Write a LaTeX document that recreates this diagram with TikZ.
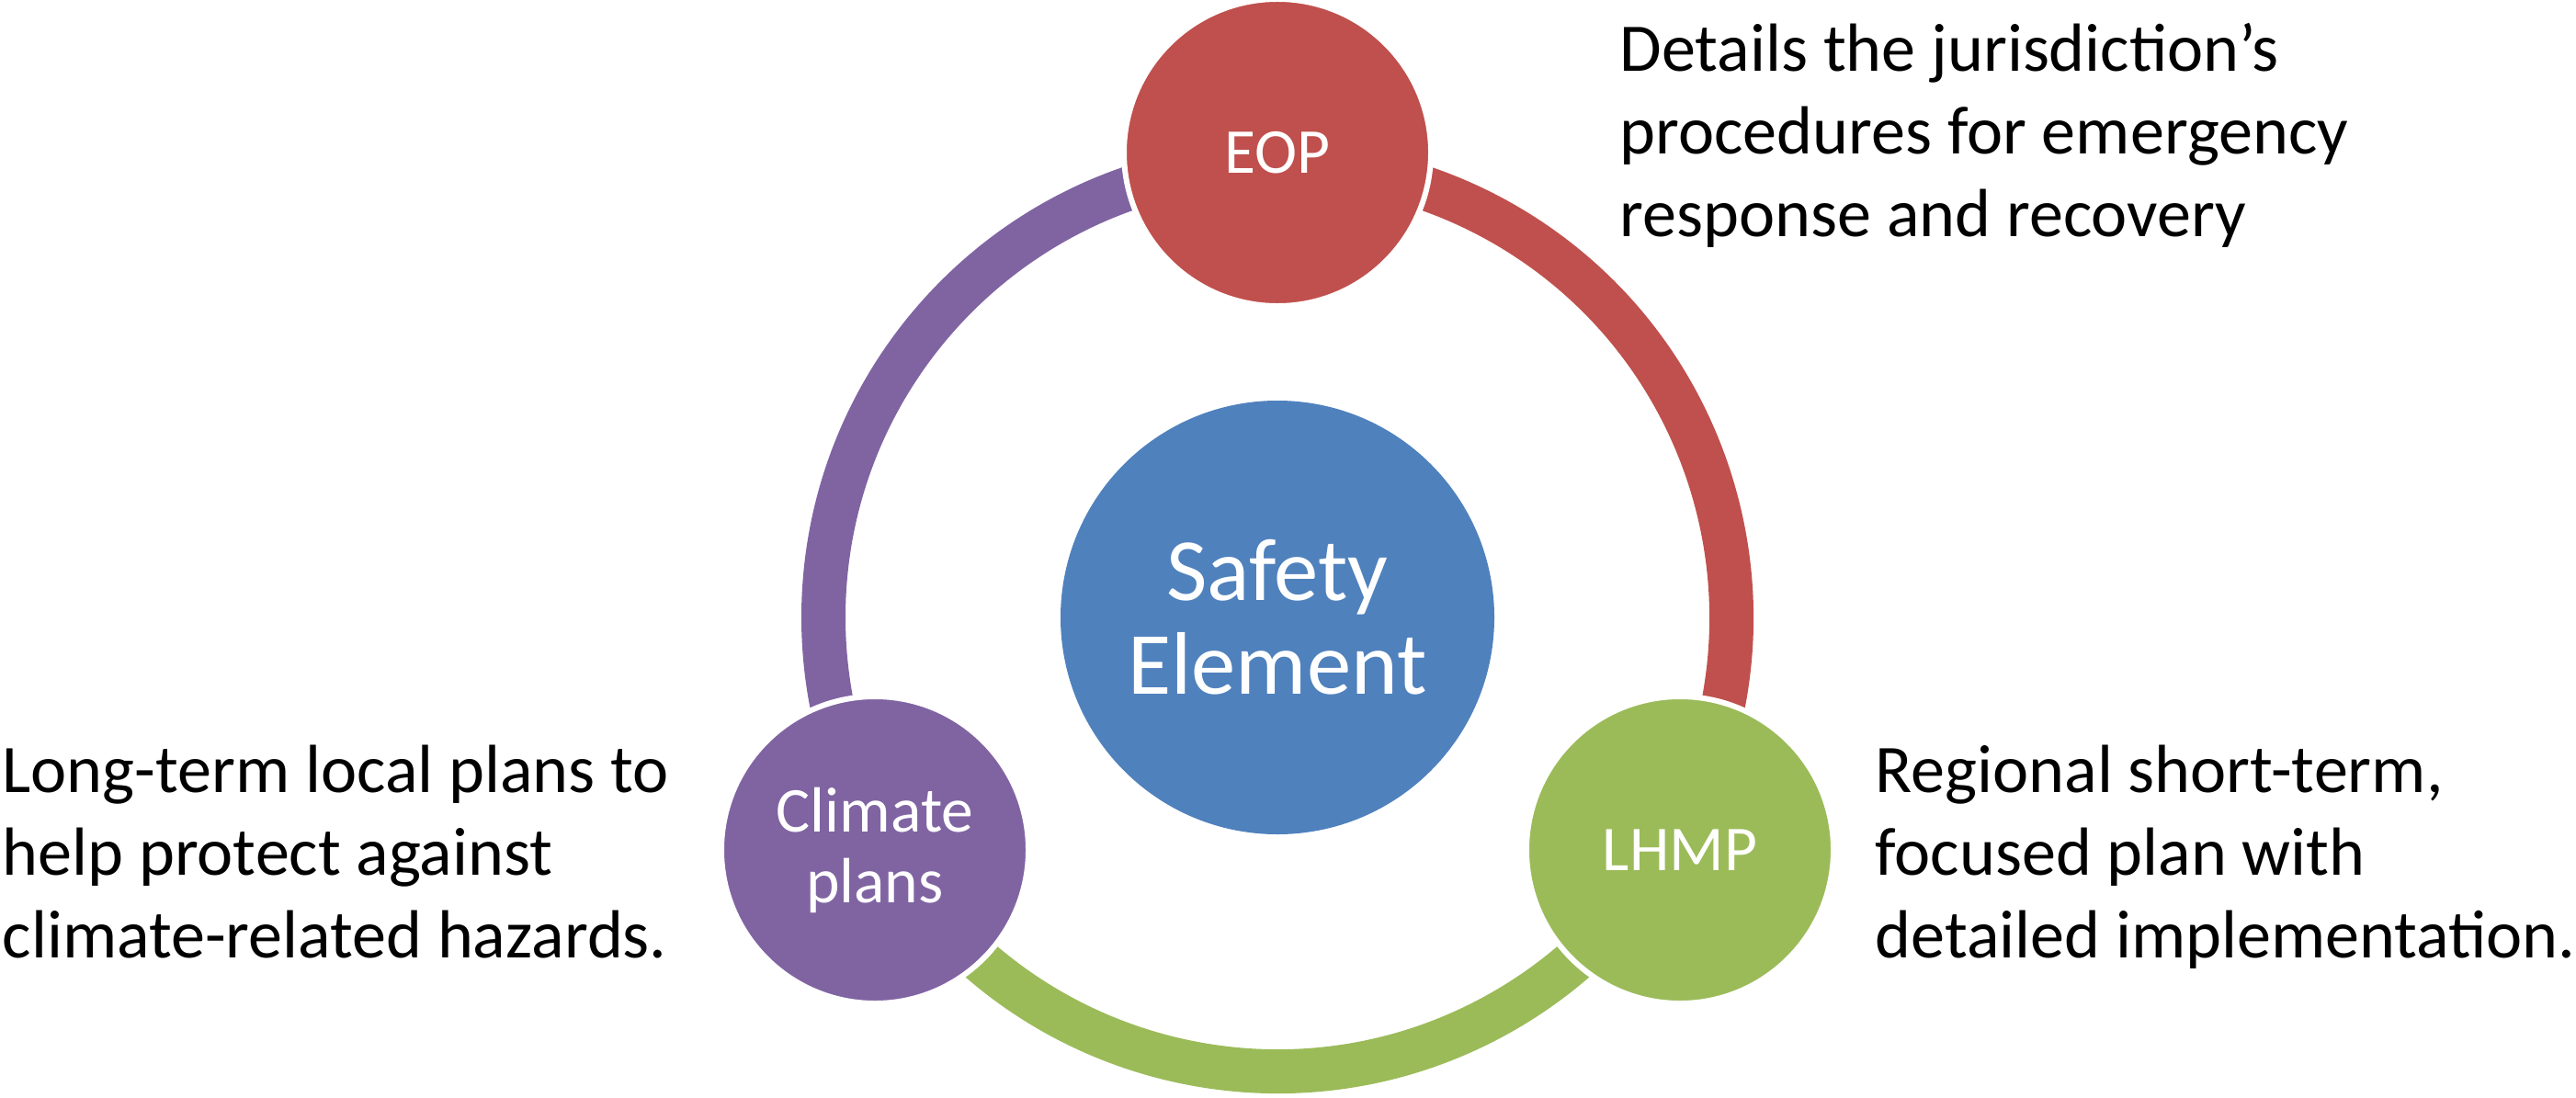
\documentclass[tikz,border=0pt]{standalone}
\usepackage{fontspec}
\setmainfont{Carlito}
\definecolor{cblue}{HTML}{4F81BD}
\definecolor{cred}{HTML}{C0504D}
\definecolor{cgreen}{HTML}{9BBB59}
\definecolor{cpurple}{HTML}{8064A2}
\begin{document}
\begin{tikzpicture}
\useasboundingbox (0,0) rectangle (28.03,11.94);
\tikzset{
  ringarc/.style={line width=0.48cm},
  bubble/.style={circle, draw=white, line width=1.7pt, minimum size=3.34cm, inner sep=0pt,
    text=white, font=\fontsize{19.8}{21.9}\selectfont, align=center},
  hub/.style={circle, minimum size=4.72cm, inner sep=0pt, text=white,
    font=\fontsize{27.5}{29}\selectfont, align=center},
  desc/.style={inner sep=0pt, align=left, anchor=base west, font=\fontsize{21.1}{25.5}\selectfont}
}
\coordinate (ring) at (13.90,5.22);
% ring segments
\draw[ringarc, cpurple] ([shift={(90:4.94)}]ring) arc[start angle=90, end angle=210, radius=4.94];
\draw[ringarc, cred] ([shift={(-30:4.94)}]ring) arc[start angle=-30, end angle=90, radius=4.94];
\draw[ringarc, cgreen] ([shift={(210:4.94)}]ring) arc[start angle=210, end angle=330, radius=4.94];
% nodes
\node[hub, fill=cblue] (safety) at (13.90,5.22) {Safety\\Element};
\node[bubble, fill=cred] (eop) at (13.90,10.28) {EOP};
\node[bubble, fill=cpurple] (climate) at (9.52,2.69) {Climate\\plans};
\node[bubble, fill=cgreen] (lhmp) at (18.28,2.69) {LHMP};
% descriptions
\node[desc] (deop) at (17.62,9.37) {Details the jurisdiction’s\\procedures for emergency\\response and recovery};
\node[desc] (dclimate) at (0.02,1.52) {Long-term local plans to\\help protect against\\climate-related hazards.};
\node[desc] (dlhmp) at (20.40,1.52) {Regional short-term,\\focused plan with\\detailed implementation.};
\end{tikzpicture}
\end{document}
